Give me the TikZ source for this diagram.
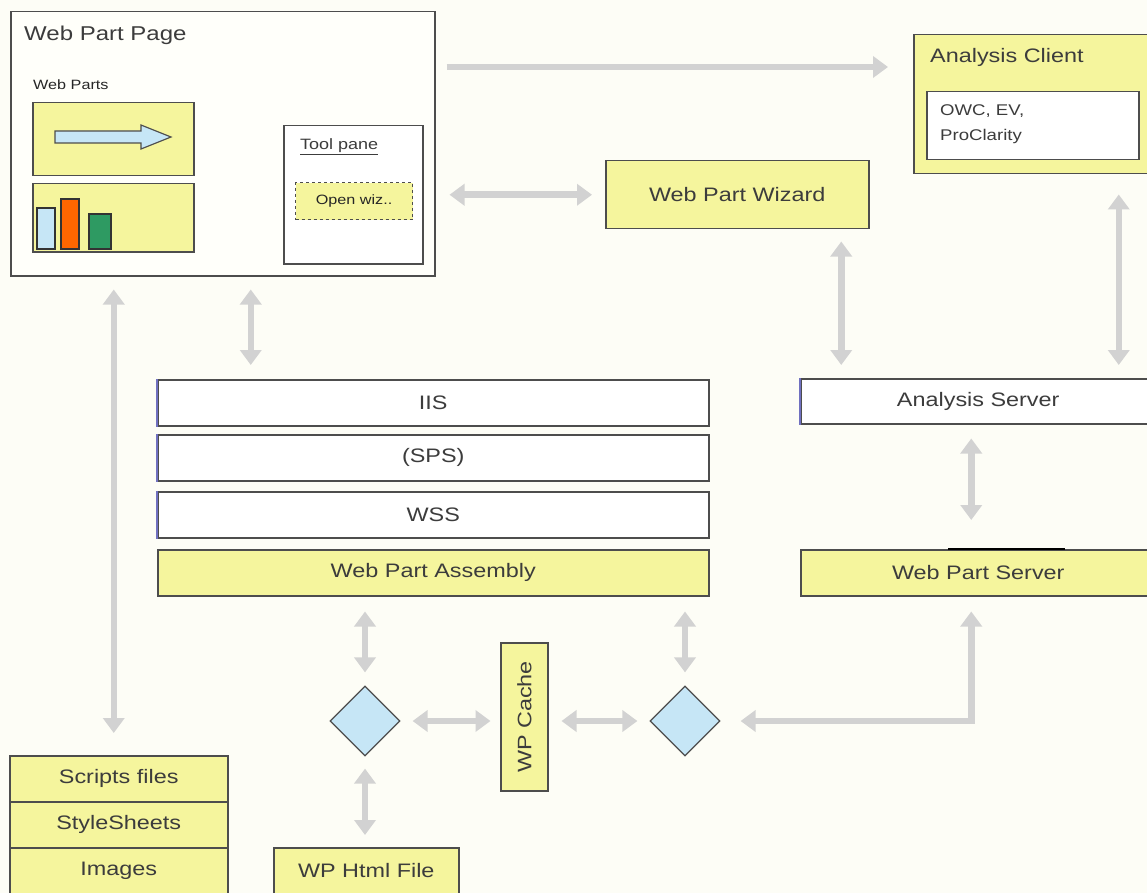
\documentclass[tikz,border=0pt]{standalone}
\usepackage{fontspec}
\setmainfont{Liberation Sans}[FakeStretch=1.2]
\usetikzlibrary{arrows.meta,shapes.geometric}
\definecolor{bg}{HTML}{FDFDF6}
\definecolor{boxbg}{HTML}{FFFFFA}
\definecolor{ylw}{HTML}{F5F59D}
\definecolor{lblue}{HTML}{C6E6F6}
\definecolor{edgec}{HTML}{4D4D4D}
\definecolor{agray}{HTML}{D2D2D2}
\definecolor{txt}{HTML}{3C3C3C}
\definecolor{orng}{HTML}{FF6600}
\definecolor{grn}{HTML}{2E9A62}
\definecolor{leftblue}{HTML}{7070C0}
\newcommand\myfs[2][]{\fontsize{#2}{#2}\selectfont}
\tikzset{
  box/.style={draw=edgec, line width=1.5pt, inner sep=0pt, anchor=north west, text=txt, font=\myfs{19.5}},
  whitebox/.style={box, fill=white},
  ybox/.style={box, fill=ylw},
  lbl/.style={inner sep=0pt, text=txt, anchor=west},
  dia/.style={diamond, draw=edgec, line width=1.2pt, fill=lblue, minimum width=70pt, minimum height=70pt, inner sep=0pt},
  conn/.style={draw=agray, line width=6.5pt, {Triangle[width=21pt,length=15pt]}-{Triangle[width=21pt,length=15pt]}},
  conn1/.style={draw=agray, line width=6.5pt, -{Triangle[width=21pt,length=15pt]}},
  bar/.style={draw=black!80, line width=1.2pt}
}
\begin{document}
\begin{tikzpicture}[x=1pt,y=-1pt]
\fill[bg] (0,0) rectangle (1147,893);
\useasboundingbox (0,0) rectangle (1147,893);

% Web Part Page
\node[box, fill=boxbg, minimum width=424pt, minimum height=264pt] (page) at (10,11) {};
\node[lbl, font=\myfs{20}] (pagetitle) at (24,35) {Web Part Page};
\node[lbl, font=\myfs{13.5}, text=black!85] (wplbl) at (33,85) {Web Parts};
\node[ybox, minimum width=161pt, minimum height=73pt] (wp1) at (32,102) {};
\node[ybox, minimum width=161pt, minimum height=68pt] (wp2) at (32,183) {};
\draw[draw=edgec, fill=lblue, line width=1.2pt] (55,131) -- (141,131) -- (141,125) -- (171,137) -- (141,149) -- (141,143) -- (55,143) -- cycle;
\draw[bar, fill=lblue] (37,249) rectangle (55,208);
\draw[bar, fill=orng] (61,249) rectangle (79,199);
\draw[bar, fill=grn] (89,249) rectangle (111,214);
\node[whitebox, minimum width=139pt, minimum height=138pt] (tool) at (283,125) {};
\node[lbl, font=\myfs{15}] (toollbl) at (300,147) {\underline{Tool pane}};
\node[box, fill=ylw, dashed, line width=1.2pt, minimum width=117pt, minimum height=37pt, font=\myfs{13.5}, text=black!85] (wiz) at (295,182) {Open wiz..};

% Analysis client
\node[ybox, minimum width=240pt, minimum height=139pt] (client) at (913,34) {};
\node[lbl, font=\myfs{19.5}] (clientlbl) at (930,57) {Analysis Client};
\node[whitebox, minimum width=212pt, minimum height=68pt] (owc) at (926,91) {};
\node[lbl, font=\fontsize{15.5}{25}\selectfont, align=left, anchor=north west] (owclbl) at (940,104) {OWC, EV,\\ProClarity};

% Wizard
\node[ybox, minimum width=263pt, minimum height=68pt] (wizard) at (605,160) {Web Part Wizard};

% Stack
\node[whitebox, minimum width=551pt, minimum height=46pt] (iis) at (157,379) {IIS};
\node[whitebox, minimum width=551pt, minimum height=46pt] (sps) at (157,434) {(SPS)};
\node[whitebox, minimum width=551pt, minimum height=46pt] (wss) at (157,491) {WSS};
\node[ybox, minimum width=551pt, minimum height=46pt] (asm) at (157,549) {Web Part Assembly};
\foreach \n in {iis,sps,wss}{\draw[leftblue, line width=1.4pt] (\n.north west) -- (\n.south west);}

% Servers
\node[whitebox, minimum width=355pt, minimum height=45pt] (aserver) at (800,378) {Analysis Server};
\draw[leftblue, line width=1.4pt] (aserver.north west) -- (aserver.south west);
\node[ybox, minimum width=355pt, minimum height=46pt] (wpserver) at (800,549) {Web Part Server};
\draw[black, line width=2pt] ([xshift=148pt]wpserver.north west) -- ([xshift=265pt]wpserver.north west);

% Bottom
\node[dia] (d1) at (365,721) {};
\node[dia] (d2) at (685,721) {};
\node[draw=edgec, line width=1.5pt, fill=ylw, inner sep=0pt, text=txt, font=\myfs{19.5}, rotate=90, minimum width=148pt, minimum height=47pt] (cache) at (524.5,717) {WP Cache};
\node[ybox, minimum width=185pt, minimum height=46pt] (html) at (273,847) {WP Html File};
\node[ybox, minimum width=218pt, minimum height=46pt] (scripts) at (9,755) {Scripts files};
\node[ybox, minimum width=218pt, minimum height=46pt] (styles) at (9,801) {StyleSheets};
\node[ybox, minimum width=218pt, minimum height=46pt] (images) at (9,847) {Images};

% Connectors
\draw[conn1, shorten <=11pt, shorten >=25pt] ([yshift=-56pt]page.north east) -- ([yshift=-56pt]page.north east -| client.west);
\draw[conn, shorten <=14pt, shorten >=13pt] (wizard.west -| page.east) -- (wizard.west);
\draw[conn, shorten <=13pt, shorten >=22pt] ([xshift=-109pt]page.south) -- ([xshift=-109pt]page.south |- scripts.north);
\draw[conn, shorten <=13pt, shorten >=14pt] ([xshift=28pt]page.south) -- ([xshift=28pt]page.south |- iis.north);
\draw[conn, shorten <=12pt, shorten >=13pt] ([xshift=104pt]wizard.south) -- ([xshift=104pt]wizard.south |- aserver.north);
\draw[conn, shorten <=20pt, shorten >=13pt] ([xshift=85pt]client.south) -- ([xshift=85pt]client.south |- aserver.north);
\draw[conn, shorten <=14pt, shorten >=29pt] ([xshift=-7pt]aserver.south) -- ([xshift=-7pt]aserver.south |- wpserver.north);
\draw[conn, shorten <=15pt, shorten >=13pt] (asm.south -| d1.north) -- (d1.north);
\draw[conn, shorten <=15pt, shorten >=13pt] (asm.south -| d2.north) -- (d2.north);
\draw[conn, shorten <=12pt, shorten >=34pt] (d1.east) -- (d1.east -| cache.center);
\draw[conn, shorten <=37pt, shorten >=12pt] (d2.west -| cache.center) -- (d2.west);
\draw[conn, shorten <=12pt, shorten >=12pt] (d1.south) -- (d1.south |- html.north);
\draw[conn, shorten <=15pt, shorten >=20pt] ([xshift=-7pt]wpserver.south) |- (d2.east);
\end{tikzpicture}
\end{document}
